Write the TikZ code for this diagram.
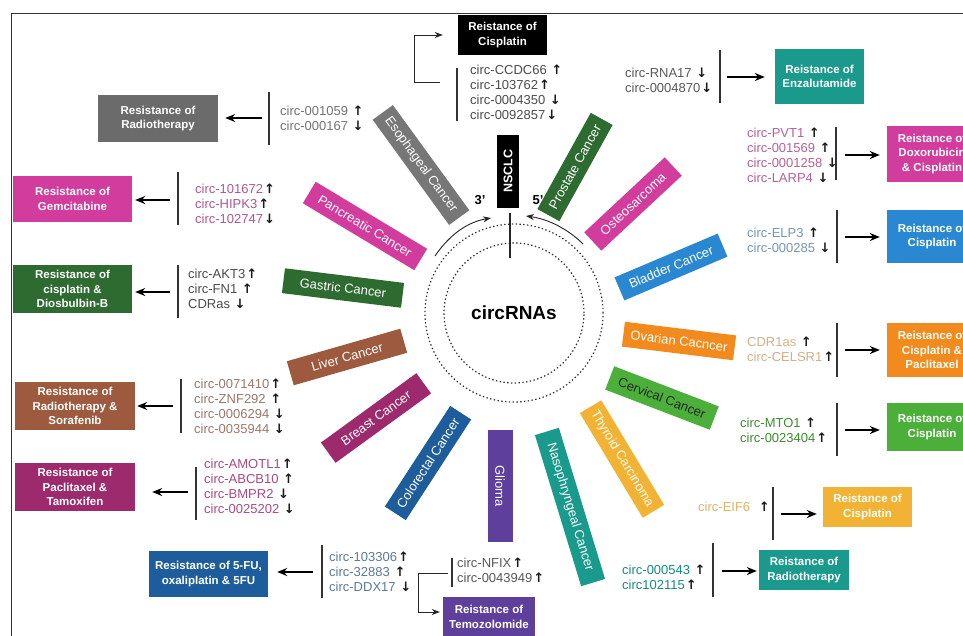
\documentclass[tikz,border=0pt]{standalone}
\usepackage{fontspec}
\setmainfont{Liberation Sans}
\newfontfamily\symf{DejaVu Sans}
\usetikzlibrary{arrows.meta}
\newcommand\uarr{{\kern1pt\symf\bfseries\fontsize{13}{13}\selectfont\color{black!90}↑}}
\newcommand\darr{{\kern1pt\symf\bfseries\fontsize{13}{13}\selectfont\color{black!90}↓}}
\definecolor{cgrey}{HTML}{777777}
\definecolor{cmag}{HTML}{D23C9C}
\definecolor{cdgreen}{HTML}{2E6B30}
\definecolor{cbrown}{HTML}{9E5A3E}
\definecolor{cplum}{HTML}{9C2A6C}
\definecolor{cnavy}{HTML}{1E5D9C}
\definecolor{cviolet}{HTML}{5E3F9C}
\definecolor{cteal}{HTML}{1A9A8C}
\definecolor{cyell}{HTML}{F2B233}
\definecolor{cgreen}{HTML}{4CAF3A}
\definecolor{corange}{HTML}{F28A1E}
\definecolor{cblue}{HTML}{2A88D2}
\definecolor{rgrey}{HTML}{6B6B6B}
\begin{document}
\begin{tikzpicture}[x=1pt,y=-1pt,
  cbox/.style={rectangle, minimum height=25pt, inner sep=0pt, text=white, font=\fontsize{13}{15}\selectfont},
  rbox/.style={rectangle, inner sep=0pt, text=white, align=center, font=\bfseries\fontsize{11.5}{14.5}\selectfont},
  lst/.style={align=left, inner sep=0pt, anchor=west, font=\fontsize{13}{15}\selectfont},
  bar/.style={draw=black!80, line width=1.3pt},
  arr/.style={-{Stealth[length=10pt,width=8pt]}, line width=1.5pt, black},
  elb/.style={-{Stealth[length=8pt,width=6pt]}, line width=0.9pt, black!85},
  dotc/.style={draw=black!80, line width=1.2pt, dash pattern=on 1.4pt off 2.4pt},
  prime/.style={font=\bfseries\fontsize{13}{13}\selectfont, inner sep=0pt}
]
\useasboundingbox (0,0) rectangle (963,635);
\clip (0,0) rectangle (963,635);
\fill[white] (0,0) rectangle (963,635);
% frame
\coordinate (fbl) at (11,640); \coordinate (ftl) at (11,13); \coordinate (ftr) at (970,13);
\draw[line width=1pt, black!80] (fbl) -- (ftl) -- (ftr);

% centre
\node[font=\bfseries\fontsize{19}{21}\selectfont, inner sep=0pt] (core) at (514,313) {circRNAs};
\draw[dotc] (core.center) circle[radius=89pt];
\draw[dotc] (core.center) circle[radius=70pt];
\coordinate (vt) at (510,213); \coordinate (vb) at (510,258);
\draw[line width=1.2pt, black!85] (vt) -- (vb);
\node[prime] (p3) at (480,200) {3'};
\node[prime] (p5) at (538,200) {5'};
\coordinate (la) at (435,256); \coordinate (lb) at (491,218);
\draw[elb] (la) .. controls (450,234) and (468,222) .. (lb);
\coordinate (ra) at (583,244); \coordinate (rb) at (526,216);
\draw[elb] (ra) .. controls (568,229) and (548,219) .. (rb);

% cancer boxes
\node[cbox, fill=black, rotate=90, minimum width=73pt, minimum height=22pt, font=\bfseries\fontsize{12.5}{14}\selectfont] (nsclc) at (508,171) {NSCLC};
\node[cbox, fill=cgrey, rotate=-54, minimum width=130pt] (eso) at (421,165) {Esophageal Cancer};
\node[cbox, fill=cmag, rotate=-31, minimum width=130pt] (pan) at (365,226) {Pancreatic Cancer};
\node[cbox, fill=cdgreen, rotate=-7, minimum width=120pt] (gas) at (343,288) {Gastric Cancer};
\node[cbox, fill=cbrown, rotate=16, minimum width=118pt] (liv) at (347,357) {Liver Cancer};
\node[cbox, fill=cplum, rotate=36, minimum width=118pt] (bre) at (376,418) {Breast Cancer};
\node[cbox, fill=cnavy, rotate=57, minimum width=120pt] (col) at (428,463) {Colorectal Cancer};
\node[cbox, fill=cviolet, rotate=-90, minimum width=112pt] (gli) at (500,486) {Glioma};
\node[cbox, fill=cteal, rotate=-73, minimum width=158pt] (nas) at (570,507) {Nasophryngeal Cancer};
\node[cbox, fill=cyell, rotate=-59, minimum width=122pt] (thy) at (622,459) {Thyroid Carcinoma};
\node[cbox, fill=cgreen, rotate=-21, minimum width=112pt, text=black!85] (cer) at (662,398) {Cervical Cancer};
\node[cbox, fill=corange, rotate=-7, minimum width=112pt] (ova) at (679,341) {Ovarian Cacncer};
\node[cbox, fill=cblue, rotate=23, minimum width=112pt] (bla) at (671,267) {Bladder Cancer};
\node[cbox, fill=cmag, rotate=43, minimum width=110pt] (ost) at (633,204) {Osteosarcoma};
\node[cbox, fill=cdgreen, rotate=61, minimum width=110pt] (pro) at (575,167) {Prostate Cancer};

% resistance boxes
\node[rbox, fill=rgrey, minimum width=120pt, minimum height=47pt] (r1) at (158,118.5) {Resistance of\\Radiotherapy};
\node[rbox, fill=cmag, minimum width=119pt, minimum height=46pt] (r2) at (72.5,199) {Resistance of\\Gemcitabine};
\node[rbox, fill=cdgreen, minimum width=119pt, minimum height=48pt] (r3) at (72.5,289) {Resistance of\\cisplatin \&\\Diosbulbin-B};
\node[rbox, fill=cbrown, minimum width=120pt, minimum height=48pt] (r4) at (75,406) {Resistance of\\Radiotherapy \&\\Sorafenib};
\node[rbox, fill=cplum, minimum width=120pt, minimum height=48pt] (r5) at (75,487) {Resistance of\\Paclitaxel \&\\Tamoxifen};
\node[rbox, fill=cnavy, minimum width=119pt, minimum height=46pt] (r6) at (208.5,574) {Resistance of 5-FU,\\oxaliplatin \& 5FU};
\node[rbox, fill=cviolet, minimum width=92pt, minimum height=40pt] (r7) at (489,617) {Reistance of\\Temozolomide};
\node[rbox, fill=black, minimum width=89pt, minimum height=40pt] (r8) at (502.5,35) {Reistance of\\Cisplatin};
\node[rbox, fill=cteal, minimum width=89pt, minimum height=55pt] (r9) at (819.5,76.5) {Reistance of\\Enzalutamide};
\node[rbox, fill=cmag, minimum width=90pt, minimum height=56pt] (r10) at (932,154) {Reistance of\\Doxorubicin\\\& Cisplatin};
\node[rbox, fill=cblue, minimum width=90pt, minimum height=53pt] (r11) at (932,236.5) {Reistance of\\Cisplatin};
\node[rbox, fill=corange, minimum width=90pt, minimum height=54pt] (r12) at (932,350) {Reistance of\\Cisplatin \&\\Paclitaxel};
\node[rbox, fill=cgreen, minimum width=90pt, minimum height=48pt] (r13) at (932,427) {Reistance of\\Cisplatin};
\node[rbox, fill=cyell, minimum width=89pt, minimum height=40pt] (r14) at (867.5,507) {Reistance of\\Cisplatin};
\node[rbox, fill=cteal, minimum width=90pt, minimum height=40pt] (r15) at (804,570) {Reistance of\\Radiotherapy};

% circRNA lists
\node[lst, text=black!55] (l1) at (280,118) {circ-001059 \uarr\\circ-000167 \darr};
\node[lst, text=cmag!75!black!80] (l2) at (195,204) {circ-101672\uarr\\circ-HIPK3\uarr\\circ-102747\darr};
\node[lst, text=black!70] (l3) at (188,289) {circ-AKT3\uarr\\circ-FN1 \uarr\\CDRas \darr};
\node[lst, text=cbrown!70!black!70] (l4) at (194,406) {circ-0071410\uarr\\circ-ZNF292 \uarr\\circ-0006294 \darr\\circ-0035944 \darr};
\node[lst, text=cplum!85] (l5) at (204,486) {circ-AMOTL1\uarr\\circ-ABCB10 \uarr\\circ-BMPR2 \darr\\circ-0025202 \darr};
\node[lst, text=cnavy!70!black!70] (l6) at (329,572) {circ-103306\uarr\\circ-32883 \uarr\\circ-DDX17 \darr};
\node[lst, text=black!65] (l7) at (457,570) {circ-NFIX\uarr\\circ-0043949\uarr};
\node[lst, text=black!70] (l8) at (470,92) {circ-CCDC66 \uarr\\circ-103762\uarr\\circ-0004350 \darr\\circ-0092857\darr};
\node[lst, text=black!65] (l9) at (625,80) {circ-RNA17 \darr\\circ-0004870\darr};
\node[lst, text=cmag!75!black!75] (l10) at (747,155) {circ-PVT1 \uarr\\circ-001569 \uarr\\circ-0001258 \darr\\circ-LARP4 \darr};
\node[lst, text=cblue!60!black!60] (l11) at (747,240) {circ-ELP3 \uarr\\circ-000285 \darr};
\node[lst, text=corange!70!black!50] (l12) at (747,349) {CDR1as \uarr\\circ-CELSR1\uarr};
\node[lst, text=cgreen!80!black] (l13) at (740,430) {circ-MTO1 \uarr\\circ-0023404\uarr};
\node[lst, text=cyell!70!white!90!black] (l14) at (698,507) {circ-EIF6 \hspace{4pt}\uarr};
\node[lst, text=cteal!90!black] (l15) at (622,577) {circ-000543 \uarr\\circ102115\uarr};

% bars
\coordinate (b1t) at (269,92);  \coordinate (b1b) at (269,145);
\coordinate (b2t) at (178,172); \coordinate (b2b) at (178,225);
\coordinate (b3t) at (178,265); \coordinate (b3b) at (178,318);
\coordinate (b4t) at (181,379); \coordinate (b4b) at (181,433);
\coordinate (b5t) at (196,467); \coordinate (b5b) at (196,520);
\coordinate (b6t) at (322,545); \coordinate (b6b) at (322,598);
\coordinate (b7t) at (452,558); \coordinate (b7b) at (452,587);
\coordinate (b8t) at (457,68);  \coordinate (b8b) at (457,121);
\coordinate (b9t) at (720,50);  \coordinate (b9b) at (720,103);
\coordinate (b10t) at (836,127); \coordinate (b10b) at (836,180);
\coordinate (b11t) at (837,210); \coordinate (b11b) at (837,263);
\coordinate (b12t) at (837,323); \coordinate (b12b) at (837,377);
\coordinate (b13t) at (837,403); \coordinate (b13b) at (837,456);
\coordinate (b14t) at (773,487); \coordinate (b14b) at (773,540);
\coordinate (b15t) at (713,543); \coordinate (b15b) at (713,597);
\foreach \i in {1,...,15} {\draw[bar] (b\i t) -- (b\i b);}

% arrows
\coordinate (a1) at (262,118);  \draw[arr, shorten >=7pt] (a1) -- (a1 -| r1.east);
\coordinate (a2) at (170,200);  \draw[arr, shorten >=3pt] (a2) -- (a2 -| r2.east);
\coordinate (a3) at (170,292);  \draw[arr, shorten >=3pt] (a3) -- (a3 -| r3.east);
\coordinate (a4) at (173,406);  \draw[arr, shorten >=2pt] (a4) -- (a4 -| r4.east);
\coordinate (a5) at (188,492);  \draw[arr, shorten >=17pt] (a5) -- (a5 -| r5.east);
\coordinate (a6) at (313,572);  \draw[arr, shorten >=9pt] (a6) -- (a6 -| r6.east);
\coordinate (a9) at (727,77);   \draw[arr, shorten >=10pt] (a9) -- (a9 -| r9.west);
\coordinate (a10) at (845,155); \draw[arr, shorten >=7pt] (a10) -- (a10 -| r10.west);
\coordinate (a11) at (845,237); \draw[arr, shorten >=7pt] (a11) -- (a11 -| r11.west);
\coordinate (a12) at (845,350); \draw[arr, shorten >=7pt] (a12) -- (a12 -| r12.west);
\coordinate (a13) at (845,430); \draw[arr, shorten >=7pt] (a13) -- (a13 -| r13.west);
\coordinate (a14) at (781,514); \draw[arr, shorten >=6pt] (a14) -- (a14 -| r14.west);
\coordinate (a15) at (722,571); \draw[arr, shorten >=2pt] (a15) -- (a15 -| r15.west);

% elbow connectors
\coordinate (e8) at (440,82); \coordinate (k8) at (414,82);
\draw[elb, shorten >=15pt] (e8) -- (k8) |- (r8.west);
\coordinate (e7) at (448,573); \coordinate (k7) at (418,573);
\draw[elb, shorten >=3pt] (e7) -- (k7) |- ([yshift=5pt]r7.west);
\end{tikzpicture}
\end{document}
